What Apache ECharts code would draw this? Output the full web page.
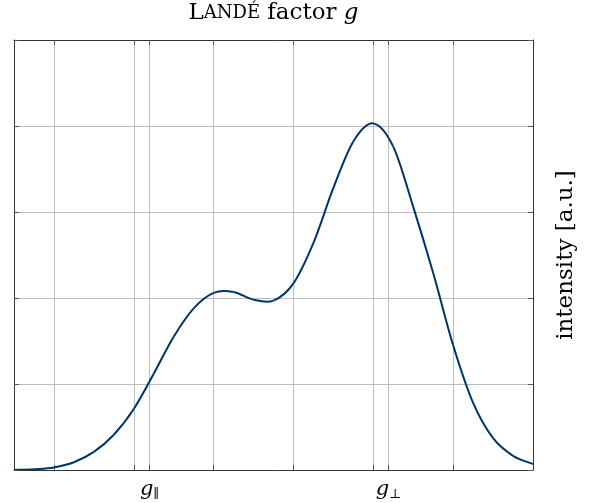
<!DOCTYPE html>
<html>
<head>
<meta charset="utf-8">
<script src="https://cdn.jsdelivr.net/npm/echarts@6/dist/echarts.min.js"></script>
<style>
  html, body { margin: 0; padding: 0; background: #fff; }
  #main { width: 600px; height: 503px; }
</style>
</head>
<body>
<div id="main"></div>
<script>
// field position (arb., step 0.25) vs. intensity
var xs = [0, 0.25, 0.5, 0.75, 1, 1.25, 1.5, 1.75, 2, 2.25, 2.5, 2.75, 3, 3.25,
          3.5, 3.75, 4, 4.25, 4.5, 4.75, 5, 5.25, 5.5, 5.75, 6, 6.25, 6.5]
var intensity = [0, 0.01, 0.03, 0.09, 0.21, 0.41, 0.71, 1.12, 1.55, 1.88, 2.06, 2.07, 1.98, 1.97,
                 2.17, 2.64, 3.28, 3.82, 4.03, 3.76, 3.06, 2.29, 1.45, 0.78, 0.37, 0.165, 0.07]
var gridTicks = [0.5, 1.5, 2.5, 3.5, 4.5, 5.5]
var gPar = 1.7, gPerp = 4.69
var tickLabels = { '1.7': '{g|g}{s|∥}', '4.69': '{g|g}{s|⊥}' }

var serif = '"DejaVu Serif", "Liberation Serif", serif'
var data = []
for (let i in xs) data.push([xs[i], intensity[i]])

var tickStyle = { show: true, inside: true, length: 5, lineStyle: { color: '#555', width: 1 } }
var gridStyle = { show: true, lineStyle: { color: '#bdbdbd', width: 1 } }
var lineStyle = { show: true, onZero: false, lineStyle: { color: '#333', width: 1 } }
var allTicks = gridTicks.concat([gPar, gPerp])

// draw the curve as a catmull-rom spline through the axis coords
function renderCurve(params, api) {
  if (params.dataIndex !== 0) return null
  var pts = data.map(function (d) { return api.coord(d) })
  var n = pts.length, segs = []
  for (var i = 0; i < n - 1; i++) {
    var p0 = pts[Math.max(i - 1, 0)], p1 = pts[i], p2 = pts[i + 1], p3 = pts[Math.min(i + 2, n - 1)]
    segs.push({
      type: 'bezierCurve',
      shape: {
        x1: p1[0], y1: p1[1], x2: p2[0], y2: p2[1],
        cpx1: p1[0] + (p2[0] - p0[0]) / 6, cpy1: p1[1] + (p2[1] - p0[1]) / 6,
        cpx2: p2[0] - (p3[0] - p1[0]) / 6, cpy2: p2[1] - (p3[1] - p1[1]) / 6
      },
      style: { fill: null, stroke: '#003366', lineWidth: 2 }
    })
  }
  return { type: 'group', children: segs }
}

var chart = echarts.init(document.getElementById('main'))
chart.setOption({
  animation: false,
  grid: { left: 14, right: 67, top: 40, bottom: 33, outerBoundsMode: 'none', containLabel: false },
  xAxis: [{
    type: 'value', min: 0, max: 6.5, position: 'bottom',
    axisLine: lineStyle,
    axisTick: Object.assign({ customValues: allTicks }, tickStyle),
    splitLine: gridStyle,
    axisLabel: {
      customValues: [gPar, gPerp], margin: 8,
      formatter: function (v) { return tickLabels[String(Math.round(v * 100) / 100)] || '' },
      rich: {
        g: { fontFamily: serif, fontStyle: 'italic', fontSize: 21, color: '#000' },
        s: { fontFamily: serif, fontSize: 13, color: '#000', padding: [10, 0, 0, 0] }
      }
    }
  }, {
    type: 'value', min: 0, max: 6.5, position: 'top',
    axisLine: lineStyle,
    axisTick: Object.assign({ customValues: allTicks }, tickStyle),
    splitLine: { show: false },
    axisLabel: { show: false },
    name: '{a|L}{b|ANDÉ} factor {i|g}',
    nameLocation: 'middle', nameGap: 15,
    nameTextStyle: {
      rich: {
        a: { fontFamily: serif, fontSize: 23, color: '#000' },
        b: { fontFamily: serif, fontSize: 18, color: '#000' },
        i: { fontFamily: serif, fontSize: 23, fontStyle: 'italic', color: '#000' }
      },
      fontFamily: serif, fontSize: 23, color: '#000'
    }
  }],
  yAxis: [{
    type: 'value', min: 0, max: 5, interval: 1, position: 'left',
    axisLine: lineStyle, axisTick: tickStyle, splitLine: gridStyle,
    axisLabel: { show: false }
  }, {
    type: 'value', min: 0, max: 5, interval: 1, position: 'right',
    axisLine: lineStyle, axisTick: tickStyle, splitLine: { show: false },
    axisLabel: { show: false },
    name: 'intensity [a.u.]', nameLocation: 'middle', nameRotate: 90, nameGap: 22,
    nameTextStyle: { fontFamily: serif, fontSize: 23, color: '#000' }
  }],
  series: [{
    type: 'custom', data: data, renderItem: renderCurve,
    xAxisIndex: 0, yAxisIndex: 0, clip: true
  }]
})
</script>
</body>
</html>
